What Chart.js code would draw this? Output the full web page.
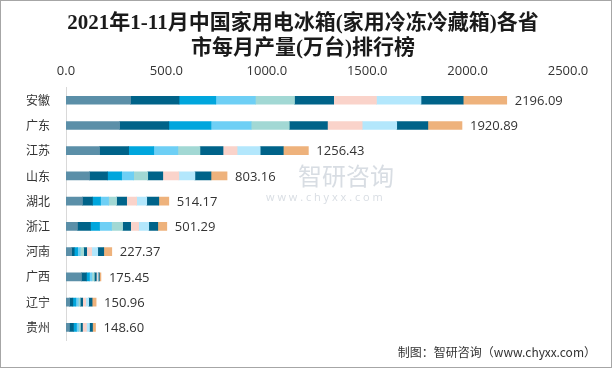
<!DOCTYPE html>
<html>
<head>
<meta charset="utf-8">
<script src="https://cdn.jsdelivr.net/npm/chart.js@4"></script>
<style>
    html, body { margin: 0; padding: 0; background: #fff; }
    #wrap { width: 612px; height: 368px; position: relative; }
</style>
</head>
<body>
<div id="wrap"><canvas id="chart" width="612" height="368"></canvas></div>
<script>
const provinces = ['安徽', '广东', '江苏', '山东', '湖北', '浙江', '河南', '广西', '辽宁', '贵州'];
const months = ['1-2月', '3月', '4月', '5月', '6月', '7月', '8月', '9月', '10月', '11月'];
const totalLabels = ['2196.09', '1920.89', '1256.43', '803.16', '514.17', '501.29', '227.37', '175.45', '150.96', '148.60'];
const xTicks = [0, 500, 1000, 1500, 2000, 2500];

// monthly output per province (万台)
const m02 = [322, 267, 167, 117, 82, 57, 28, 77, 18, 17];
const m03 = [241, 245, 145, 90, 50, 65, 13, 25, 16, 20];
const m04 = [183, 210, 125, 70, 40, 45, 17, 15, 15, 15];
const m05 = [197, 200, 120, 60, 40, 60, 13, 12, 12, 10];
const m06 = [195, 190, 110, 70, 40, 55, 17, 12, 10, 10];
const m07 = [195, 190, 115, 75, 50, 40, 15, 10, 12, 10];
const m08 = [213, 173, 70, 80, 50, 40, 25, 5, 15, 20];
const m09 = [222, 172, 115, 80, 50, 50, 30, 5, 15, 15];
const m10 = [210, 155, 115, 80, 60, 45, 30, 5, 17, 15];
const m11 = [217, 170, 125, 80, 50, 45, 40, 8, 20, 15];

const monthData = [m02, m03, m04, m05, m06, m07, m08, m09, m10, m11];
const monthColors = ['#5B8FA8', '#006389', '#00A6DD', '#6ECFF5', '#A2D8D4',
                     '#006389', '#FAD3CA', '#B3E7FC', '#006389', '#EEB27C'];

const CJK = "'Noto Sans CJK SC', sans-serif";
const NUM = "'Open Sans', 'Liberation Sans', sans-serif";

const decorPlugin = {
    id: 'decor',
    beforeDraw(chart) {
        const ctx = chart.ctx;
        ctx.save();
        ctx.fillStyle = '#ffffff';
        ctx.fillRect(0, 0, chart.width, chart.height);
        // watermark
        ctx.fillStyle = 'rgba(190,198,208,0.6)';
        ctx.font = "24px " + CJK;
        ctx.textAlign = 'left';
        ctx.textBaseline = 'middle';
        ctx.fillText('智研咨询', 298, 176);
        ctx.font = "11px " + NUM;
        ctx.fillText('w w w . c h y x x . c o m', 266, 198);
        ctx.restore();
    },
    afterDraw(chart) {
        const ctx = chart.ctx;
        const xs = chart.scales.x;
        const meta = chart.getDatasetMeta(0);
        ctx.save();
        // title
        ctx.fillStyle = '#1a1a1a';
        ctx.textAlign = 'center';
        ctx.textBaseline = 'middle';
        ctx.font = "bold 21px 'Liberation Serif', 'Noto Sans CJK SC', serif";
        ctx.fillText('2021年1-11月中国家用电冰箱(家用冷冻冷藏箱)各省', 303, 24);
        ctx.fillText('市每月产量(万台)排行榜', 303, 49);
        // totals at the end of each stack
        ctx.font = "13px " + NUM;
        ctx.fillStyle = '#333333';
        ctx.textAlign = 'left';
        provinces.forEach((p, i) => {
            let sum = 0;
            monthData.forEach(arr => { sum += arr[i]; });
            const x = xs.getPixelForValue(sum) + 8;
            const y = meta.data[i].y;
            ctx.fillText(totalLabels[i], x, y + 1);
        });
        // source
        ctx.font = "12px " + CJK;
        ctx.fillStyle = '#333333';
        ctx.textAlign = 'right';
        ctx.fillText('制图：智研咨询（www.chyxx.com）', 596, 352);
        // frame
        ctx.strokeStyle = '#a6a6a6';
        ctx.lineWidth = 1;
        ctx.strokeRect(0.5, 0.5, chart.width - 1, chart.height - 1);
        ctx.restore();
    }
};

const datasets = months.map((m, k) => ({
    label: m,
    data: monthData[k],
    backgroundColor: monthColors[k],
    borderWidth: 0,
    barThickness: 8
}));

new Chart(document.getElementById('chart'), {
    type: 'bar',
    data: { labels: provinces, datasets: datasets },
    options: {
        indexAxis: 'y',
        responsive: false,
        animation: false,
        layout: { padding: { top: 62, bottom: 28, left: 18, right: 44 } },
        plugins: {
            legend: { display: false },
            title: { display: false },
            tooltip: { enabled: false }
        },
        scales: {
            x: {
                position: 'top',
                stacked: true,
                min: 0,
                max: 2500,
                afterBuildTicks(axis) {
                    axis.ticks = xTicks.map(v => ({ value: v }));
                },
                ticks: {
                    callback: v => Number(v).toFixed(1),
                    color: '#333333',
                    font: { family: NUM, size: 13 },
                    padding: 1,
                    maxRotation: 0
                },
                grid: { display: false },
                border: { display: false }
            },
            y: {
                stacked: true,
                ticks: {
                    color: '#333333',
                    font: { family: CJK, size: 12 },
                    padding: 8
                },
                grid: { display: false },
                border: { display: true, color: '#d9d9d9', width: 1 }
            }
        }
    },
    plugins: [decorPlugin]
});
</script>
</body>
</html>
